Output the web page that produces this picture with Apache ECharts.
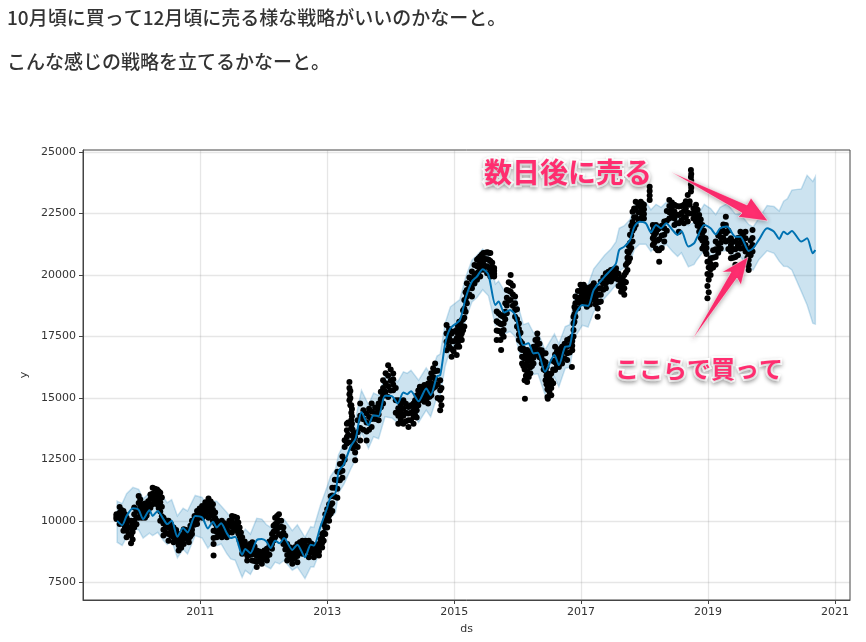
<!DOCTYPE html>
<html><head><meta charset="utf-8">
<style>html,body{margin:0;padding:0;background:#fff}#c{width:866px;height:642px}</style>
<script src="https://cdn.jsdelivr.net/npm/echarts@6/dist/echarts.min.js"></script>
</head><body><div id="c"></div>
<script>
const headline1 = "10月頃に買って12月頃に売る様な戦略がいいのかなーと。";
const headline2 = "こんな感じの戦略を立てるかなーと。";
const noteSell = "数日後に売る";
const noteBuy = "ここらで買って";
const xTicks = [2011,2013,2015,2017,2019,2021];
const yTicks = [7500,10000,12500,15000,17500,20000,22500,25000];

const forecastDates = [2009.69,2009.77,2009.84,2009.94,2010.03,2010.10,2010.20,2010.25,2010.33,2010.42,2010.48,2010.55,2010.64,2010.73,2010.80,2010.92,2011.03,2011.12,2011.20,2011.26,2011.33,2011.42,2011.48,2011.55,2011.66,2011.71,2011.79,2011.89,2011.97,2012.04,2012.11,2012.18,2012.25,2012.32,2012.45,2012.53,2012.65,2012.74,2012.79,2012.89,2013.00,2013.05,2013.13,2013.18,2013.26,2013.37,2013.45,2013.54,2013.65,2013.73,2013.81,2013.91,2014.02,2014.11,2014.20,2014.26,2014.32,2014.44,2014.56,2014.63,2014.73,2014.78,2014.86,2014.94,2015.09,2015.18,2015.28,2015.36,2015.45,2015.54,2015.65,2015.70,2015.79,2015.88,2015.96,2016.09,2016.17,2016.25,2016.32,2016.43,2016.58,2016.65,2016.75,2016.82,2016.91,2017.02,2017.11,2017.20,2017.37,2017.47,2017.55,2017.60,2017.68,2017.77,2017.84,2017.92,2018.02,2018.10,2018.18,2018.26,2018.34,2018.44,2018.52,2018.58,2018.69,2018.78,2018.82,2018.94,2019.04,2019.12,2019.19,2019.30,2019.43,2019.51,2019.64,2019.71,2019.80,2019.93,2020.04,2020.12,2020.19,2020.25,2020.32,2020.47,2020.56,2020.65,2020.69];
const yhat = [10000,9825,10200,10510,10444,10067,10430,10200,10403,10067,9866,10000,9355,9704,9530,10200,10134,9690,9960,9730,9906,9490,9300,9355,8616,8858,8683,9220,9260,9167,8898,9194,9086,9300,8817,9032,8522,9032,8992,9731,10538,10940,11142,12016,12285,13024,13360,14429,13885,14293,14252,15082,15068,14769,15218,15150,15272,14864,15381,15109,15884,15925,17217,17829,18169,19053,19733,19937,20236,20005,18781,18917,18468,18577,18373,17149,17217,16809,16836,16061,16741,16333,17081,17108,18373,18781,18740,19393,19932,20203,20474,21016,21152,21423,21965,22168,22100,21734,22032,21897,22100,21829,21626,21789,21152,21287,21490,22032,21897,21653,21897,21965,21558,21558,20976,21084,21423,21897,21761,21463,21761,21653,21789,21355,21490,20881,21016];
const yhatLower = [9130,9000,9330,9700,9630,9300,9500,9400,9530,9200,9040,9200,8500,8840,8650,9400,9300,8890,9130,8990,9060,8660,8450,8400,7700,7980,7820,8320,8320,8150,8050,8320,8250,8390,7990,8120,7650,8120,8120,8800,9730,10120,10330,11140,11470,12100,12500,13600,12950,13420,13340,14230,14180,13980,14360,14250,14400,14000,14500,14230,15040,15100,16300,17000,17350,18200,18900,19080,19400,19150,17950,18050,17600,17700,17500,16300,16350,15950,15980,15150,15850,15450,16200,16250,17500,17950,17880,18500,19050,19350,19600,20150,20300,20500,21050,21250,21250,20950,21200,21050,21250,20950,20750,20900,20330,20430,20600,21000,20800,20620,20950,21000,20620,20750,20300,20200,20620,20980,20880,20560,20350,20340,20200,19320,18780,18035,18000];
const yhatUpper = [10800,10700,11100,11360,11280,10900,11130,11200,11200,10950,10740,10860,10200,10510,10400,11030,10950,10540,10800,10800,10600,10340,10130,10130,9460,9660,9460,10100,10070,9850,9730,10000,9870,10070,9600,9840,9330,9760,9730,10600,11400,11800,12100,12700,13100,13870,14200,15310,14720,15200,15100,15900,15880,15650,16060,16000,16120,15720,16220,15950,16700,16780,18050,18700,19000,19900,20600,20800,21050,20800,19630,19750,19350,19400,19200,17980,18050,17650,17680,16950,17600,17200,17900,17980,19250,19650,19600,20250,20800,21050,21350,21900,22000,22250,22800,23000,22950,22650,22870,22750,22950,22650,22450,22600,22000,22150,22350,22870,22700,22450,22750,22900,22480,22480,22050,21950,22300,22820,22780,22600,23000,23100,23450,23500,24050,23800,24000];

// each row: date, then closing prices read from the dark clump at that date
const dots2009to2010 = [
[2009.68,10270,10200,10130,10070],[2009.73,10560,10330,10100,9870],[2009.79,10400,10130,9870,9600],[2009.84,10130,9870,9600,9330],[2009.91,10000,9700,9400,9090],[2009.96,10540,10270,10000,9730],[2010.03,11010,10720,10420,10130],[2010.08,10670,10500,10300,10130],[2010.13,10700,10500,10300,10130],[2010.18,10800,10670,10530,10400],[2010.25,11340,11100,10900,10670],[2010.32,11270,11070,10870,10670],[2010.37,11140,10760,10380,10000],[2010.42,10130,9890,9640,9400],[2010.50,10000,9730,9460,9190],[2010.58,9730,9530,9330,9130],[2010.66,9460,9240,9010,8790],[2010.74,9660,9460,9260,9060],[2010.82,9600,9440,9290,9130],[2010.87,10000,9820,9640,9460],[2010.95,10400,10230,10050,9870],
[2009.705,10235,10165,10100],[2009.76,10445,10215,9985],[2009.815,10265,10000,9735],[2009.875,10000,9735,9465],[2009.935,9850,9550,9245],[2009.995,10405,10135,9865],[2010.055,10865,10570,10275],[2010.105,10585,10400,10215],[2010.155,10600,10400,10215],[2010.215,11070,10885,10535],[2010.285,11305,11085,10770],[2010.345,11205,10915,10525],[2010.395,10950,10570,10190],[2010.46,10010,9760,9520],[2010.54,9865,9630,9395],[2010.62,9630,9385,9170],[2010.70,9350,9125,8900],[2010.78,9630,9450,9275],[2010.845,9800,9630,9375],[2010.91,10200,10025,9845],[2010.99,10500,10340,10170]];
const dots2011to2012 = [
[2011.03,10600,10450,10290,10130],[2011.13,10910,10650,10390,10130],[2011.20,10670,10450,10220,10000],[2011.21,9600,9300,9060,8590],[2011.26,10000,9780,9550,9330],[2011.34,10000,9780,9550,9330],[2011.42,9800,9640,9490,9330],[2011.50,10200,9980,9750,9530],[2011.58,10130,9950,9780,9600],[2011.62,9730,9550,9370,9190],[2011.66,9330,9110,8880,8660],[2011.74,8990,8790,8590,8390],[2011.82,9130,8880,8640,8390],[2011.89,8790,8570,8340,8120],[2011.97,8720,8560,8410,8250],[2012.05,8860,8700,8550,8390],[2012.13,9460,9260,9060,8860],[2012.18,10130,9860,9600,9330],[2012.24,10270,10000,9730,9460],[2012.31,9730,9510,9280,9060],[2012.37,9060,8840,8610,8390],[2012.45,8790,8610,8430,8250],[2012.53,9060,8810,8570,8320],[2012.61,9190,9010,8840,8660],[2012.71,9190,8970,8740,8520],[2012.79,8990,8830,8680,8520],[2012.87,9060,8900,8750,8590],[2012.92,9460,9280,9100,8920],[2012.97,10270,10000,9730,9460],
[2011.08,10755,10550,10340,10210],[2011.165,10790,10550,10310],[2011.235,10335,10115,9890],[2011.30,9890,9665,9440],[2011.38,9900,9715,9410],[2011.46,10000,9810,9540],[2011.54,10165,9865,9665],[2011.60,9930,9750,9485],[2011.64,9530,9330,9030],[2011.70,9160,8950,8735],[2011.78,9060,8835,8615],[2011.855,8960,8725,8365],[2011.93,8755,8565,8375],[2012.01,8790,8630,8480],[2012.09,9160,8980,8625],[2012.155,9795,9560,9195],[2012.21,10200,9930,9665],[2012.275,10000,9755,9395],[2012.34,9395,9060,8835],[2012.41,8925,8725,8520],[2012.49,8925,8710,8500],[2012.57,9125,8910,8705],[2012.66,9190,8990,8790],[2012.75,9080,8900,8710],[2012.83,9025,8865,8715],[2012.895,9260,9090,8925],[2012.945,9865,9515,9190]];
const dots2013to2014 = [
[2013.03,10670,10450,10220,10000],[2013.08,11340,11030,10710,10400],[2013.16,12000,11650,11300,10940],[2013.24,12620,12330,12040,11750],[2013.31,13950,13680,13410,13140],[2013.35,15650,15400,15150,14900],[2013.38,14700,14400,14100,13800],[2013.40,13700,13450,13200,12950],[2013.44,13410,13090,12780,12460],[2013.52,14770,14270,13770,13270],[2013.62,14360,14000,13630,13270],[2013.70,14770,14450,14140,13820],[2013.81,14770,14540,14320,14090],[2013.88,15720,15400,15090,14770],[2013.96,16330,15900,15470,15040],[2014.04,15990,15760,15540,15310],[2014.12,14900,14580,14270,13950],[2014.20,14900,14580,14270,13950],[2014.28,14630,14360,14090,13820],[2014.36,14770,14500,14220,13950],[2014.41,15100,14800,14500,14200],[2014.46,15450,15270,15080,14900],[2014.53,15520,15270,15020,14840],[2014.59,15580,15310,15040,14770],[2014.64,16000,15600,15300,15110],[2014.70,16400,16080,15770,15450],[2014.78,15720,15310,14910,14500],[2014.88,17960,17620,17280,16940],[2014.96,17620,17300,16990,16670],
[2013.00,10470,10115,9730],[2013.055,11000,10630,10300],[2013.12,11670,11340,10975],[2013.20,12310,11990,11650],[2013.275,13280,13005,12480],[2013.33,14000,13500,13200],[2013.365,15280,15000,14700],[2013.39,14550,14250,13950],[2013.42,13550,13270,13000],[2013.48,14090,13600,13000],[2013.57,14500,14130,13700],[2013.66,14560,14225,13700],[2013.755,14610,14380,14140],[2013.845,15245,14945,14620],[2013.92,16000,15600,15250],[2014.00,16150,15700,15300],[2014.08,15400,14900,14400],[2014.16,14740,14425,14110],[2014.24,14765,14400,14050],[2014.32,14700,14400,14090],[2014.385,14900,14600,14300],[2014.435,15300,15000,14700],[2014.495,15440,15200,14980],[2014.56,15450,15170,14900],[2014.615,15790,15450,15050],[2014.67,16200,15850,15400],[2014.74,16100,15550,15000],[2014.80,15400,15000,14700],[2014.92,17800,17450,17100],[2014.99,17700,17300,16900]];
const dots2015to2016 = [
[2015.04,17760,17420,17080,16740],[2015.08,18100,17760,17420,17080],[2015.12,18170,17900,17620,17350],[2015.16,18980,18620,18260,17900],[2015.20,19660,19390,19120,18850],[2015.28,20140,19800,19460,19120],[2015.36,20620,20350,20070,19800],[2015.41,20750,20480,20210,19940],[2015.46,20890,20660,20440,20210],[2015.52,20920,20640,20350,20070],[2015.57,20890,20570,20260,19940],[2015.63,20280,20170,20050,19940],[2015.67,18510,18120,17740,17350],[2015.73,18370,18000,17700,17350],[2015.74,16950],[2015.78,18300,18030,17760,17490],[2015.83,19390,19070,18760,18440],[2015.89,20000,19660,19320,18980],[2015.96,19120,18850,18570,18300],[2016.02,18030,17800,17580,17350],[2016.07,17220,16950,16670,16400],[2016.11,16950,16600,16150,15720],[2016.115,14960],[2016.15,16950,16520,16080,15650],[2016.20,16810,16500,16250,16000],[2016.25,17080,16850,16630,16400],[2016.31,17620,17390,17170,16940],[2016.38,16940,16760,16580,16400],[2016.44,16810,16450,16100,15720],[2016.47,15990,15670,15350,15040],[2016.475,14960],[2016.53,15990,15700,15400,15110],[2016.59,17080,16760,16450,16130],[2016.65,16940,16700,16500,16260],[2016.70,17080,16850,16630,16400],[2016.78,17350,17080,16810,16540],[2016.855,16260],[2016.86,17490,17310,17120,16940],[2016.88,18300,18030,17760,17500],[2016.91,19120,18850,18570,18300],[2016.99,19600,19350,19100,18850],
[2015.06,17930,17600,17250],[2015.10,18040,17800,17500],[2015.14,18550,18200,17750],[2015.18,19300,18950,18500],[2015.24,19900,19550,19200],[2015.32,20400,20000,19650],[2015.385,20680,20400,20120],[2015.435,20820,20580,20320],[2015.49,20900,20650,20340],[2015.545,20900,20620,20300],[2015.60,20500,20300,20100],[2015.70,18440,18060,17720],[2015.755,18330,18000,17600],[2015.805,18850,18500,18200],[2015.86,19700,19360,18950],[2015.925,19560,19200,18750],[2015.99,18600,18200,17900],[2016.045,17650,17300,17000],[2016.09,17000,16650,16300],[2016.13,16800,16350,15900],[2016.175,16700,16300,15850],[2016.225,16900,16600,16300],[2016.28,17350,17050,16750],[2016.345,17200,16950,16650],[2016.41,16800,16500,16150],[2016.455,16250,15900,15550],[2016.50,15850,15550,15250],[2016.56,16500,16150,15600],[2016.62,16900,16550,16300],[2016.675,17000,16700,16400],[2016.74,17200,16950,16600],[2016.82,17400,17150,16850],[2016.895,18700,18400,18100],[2016.95,19350,19000,18650]];
const dots2017to2018 = [
[2017.04,19600,19350,19100,18850],[2017.09,19390,19160,18940,18710],[2017.14,19500,19250,19000,18800],[2017.20,19660,19430,19210,18980],[2017.26,19190,18920,18640,18300],[2017.31,19730,19460,19190,18920],[2017.39,20070,19870,19660,19460],[2017.47,20200,20050,19890,19730],[2017.55,20270,20130,20000,19860],[2017.63,19860,19680,19500,19320],[2017.68,20000,19730,19460,19190],[2017.73,20950,20700,20500,20200],[2017.77,21630,21300,21000,20680],[2017.81,22570,22150,21800,21360],[2017.86,22980,22660,22350,22030],[2017.94,22980,22750,22530,22300],[2017.99,22850,22670,22480,22300],[2018.08,23590,23410,23230,23050],[2018.13,22030,21760,21490,21220],[2018.18,22030,21710,21400,21080],[2018.23,21900,21450,21000,20540],[2018.31,22170,21900,21630,21360],[2018.39,23050,22800,22550,22300],[2018.47,22850,22580,22300,22030],[2018.54,22780,22440,22100,21760],[2018.62,22850,22600,22350,22100],[2018.68,23250,22890,22530,22170],[2018.73,24270,23980,23680,23390],[2018.81,22850,22620,22400,22170],[2018.86,22440,22210,21990,21760],[2018.91,22030,21710,21400,21080],[2018.96,21490,21310,21130,20950],
[2017.015,19480,19230,18980],[2017.065,19500,19250,19000],[2017.115,19450,19200,18950],[2017.17,19550,19300,19050],[2017.23,19400,19100,18800],[2017.285,19450,19200,18900],[2017.35,19900,19650,19400],[2017.43,20130,19950,19750],[2017.51,20230,20050,19850],[2017.59,20050,19800,19550],[2017.655,19900,19600,19350],[2017.705,20400,20100,19700],[2017.75,21200,20900,20550],[2017.79,22000,21600,21100],[2017.835,22700,22350,21900],[2017.90,22850,22550,22250],[2017.965,22900,22620,22400],[2018.15,21900,21600,21300],[2018.205,21850,21400,21000],[2018.27,22000,21600,21100],[2018.35,22600,22200,21800],[2018.43,22950,22680,22420],[2018.505,22800,22450,22100],[2018.58,22800,22520,22220],[2018.65,23000,22700,22350],[2018.735,24100,23830,23550],[2018.71,23000,22850,22500],[2018.77,22700,22500,22300],[2018.835,22650,22300,22000],[2018.885,22250,21850,21500],[2018.935,21800,21500,21200],[2018.975,21300,21100,20850]];
const dots2019 = [
[2018.99,20540,20040,19550,19050],[2019.04,20680,20450,20230,20000],[2019.12,21360,21040,20730,20410],[2019.20,21760,21530,21310,21080],[2019.28,22370,22030,21700,21360],[2019.36,21490,21220,20950,20680],[2019.43,21360,21040,20730,20410],[2019.51,21760,21530,21310,21080],[2019.59,21760,21490,21220,20950],[2019.64,20810,20610,20400,20200],[2019.70,21830,21500,21220,20950],
[2019.01,20300,19800,19300],[2019.08,21000,20700,20300],[2019.16,21600,21250,20900],[2019.24,22050,21800,21500],[2019.32,21800,21400,21050],[2019.395,21350,21050,20700],[2019.47,21500,21200,20800],[2019.55,21650,21400,21100],[2019.62,21000,20700,20400],[2019.67,21400,21100,20800]];

const dotRows = [...dots2009to2010,...dots2011to2012,...dots2013to2014,...dots2015to2016,...dots2017to2018,...dots2019];
const dotPoints = [];
dotRows.forEach(r => r.slice(1).forEach(v => dotPoints.push([r[0], v])));

const chart = echarts.init(document.getElementById('c'), null, {renderer:'canvas'});
const txt = '#333';
const font = 'DejaVu Sans';
const pink = '#ff2d6f';
const jp = '"Noto Sans CJK JP"';
const noteStyle = (text,x,y,size)=>({type:'text',x,y,z:50,style:{text,x:0,y:0,fill:pink,font:'bold '+size+'px '+jp,stroke:'#fff',lineWidth:4,strokeFirst:true,verticalAlign:'middle',textShadowColor:'rgba(0,0,0,0.28)',textShadowBlur:4,textShadowOffsetY:2}});
const arrow = pts=>({type:'polygon',z:49,shape:{points:pts},style:{fill:pink,stroke:'#fff',lineWidth:0.5,shadowColor:'rgba(0,0,0,0.35)',shadowBlur:5,shadowOffsetY:1}});
const bandData = forecastDates.map((d,i)=>[d,yhatLower[i],yhatUpper[i]]);
chart.setOption({
  animation:false,
  backgroundColor:'#fff',
  grid:{left:83,right:16,top:150,bottom:42,show:true,borderColor:'#444',borderWidth:1,backgroundColor:'transparent'},
  xAxis:{type:'value',min:2009.153,max:2021.236,name:'ds',nameLocation:'middle',nameGap:24,
    nameTextStyle:{fontFamily:font,fontSize:11,color:txt},
    axisLine:{show:true,onZero:false,lineStyle:{color:'#444',width:1}},
    axisTick:{show:true,length:4,customValues:xTicks,lineStyle:{color:'#444'}},
    axisLabel:{customValues:xTicks,formatter:v=>String(v),fontFamily:font,fontSize:11,color:txt,margin:7},
    splitLine:{show:true,lineStyle:{color:'rgba(128,128,128,0.2)',width:1.3}}},
  yAxis:{type:'value',min:6780,max:25081,name:'y',nameLocation:'middle',nameGap:53,
    nameTextStyle:{fontFamily:font,fontSize:11,color:txt},
    axisLine:{show:true,onZero:false,lineStyle:{color:'#444',width:1}},
    axisTick:{show:true,length:4,customValues:yTicks,lineStyle:{color:'#444'}},
    axisLabel:{customValues:yTicks,formatter:v=>String(v),fontFamily:font,fontSize:11,color:txt,margin:7},
    splitLine:{show:true,lineStyle:{color:'rgba(128,128,128,0.2)',width:1.3}}},
  series:[
    {type:'custom',name:'band',data:bandData,z:2,silent:true,encode:{x:0,y:[1,2]},
      renderItem:(params,api)=>{
        if(params.dataIndex!==0) return null;
        const top=bandData.map(r=>api.coord([r[0],r[2]]));
        const bottom=bandData.map(r=>api.coord([r[0],r[1]])).reverse();
        return {type:'polygon',shape:{points:top.concat(bottom)},style:{fill:'rgba(0,114,178,0.2)',stroke:'rgba(0,114,178,0.2)',lineWidth:1.5}};
      }},
    {type:'scatter',name:'y',data:dotPoints,symbolSize:6,itemStyle:{color:'#000',opacity:1},z:3},
    {type:'line',name:'yhat',data:forecastDates.map((d,i)=>[d,yhat[i]]),showSymbol:false,z:4,smooth:0.25,
      lineStyle:{color:'#0072B2',width:2}}
  ],
  graphic:[
    {type:'text',x:7,y:18,style:{text:headline1,font:'500 19px '+jp,fill:'#333',verticalAlign:'middle'}},
    {type:'text',x:7,y:62,style:{text:headline2,font:'500 19px '+jp,fill:'#333',verticalAlign:'middle'}},
    noteStyle(noteSell,484,172,28),
    noteStyle(noteBuy,615,369,24),
    arrow([[671,172],[747,205],[751,198],[768,221],[738,217],[742,213]]),
    arrow([[692,340],[731,272],[722,272],[748,257],[741,285],[737,278]])
  ]
});
</script></body></html>
